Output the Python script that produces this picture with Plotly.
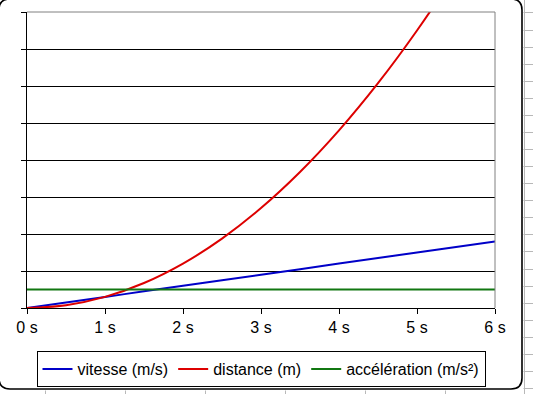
import plotly.graph_objects as go

# ---- data ----
temps = [0, 0.5, 1, 1.5, 2, 2.5, 3, 3.5, 4, 4.5, 5, 5.5, 6]
vitesse = [0, 1.5, 3, 4.5, 6, 7.5, 9, 10.5, 12, 13.5, 15, 16.5, 18]
distance = [0, 0.75, 3, 6.75, 12, 18.75, 27, 36.75, 48, 60.75, 75, 90.75, 108]
acceleration = [5, 5, 5, 5, 5, 5, 5, 5, 5, 5, 5, 5, 5]
x_ticks = [0, 1, 2, 3, 4, 5, 6]
x_labels = ["0 s", "1 s", "2 s", "3 s", "4 s", "5 s", "6 s"]
names = ["vitesse (m/s)", "distance (m)", "accélération (m/s²)"]
colors = ["#0000C8", "#DD0000", "#117711"]

# the page body margin is removed (post_script), so figure origin = screen (0, 0)
W, H = 533, 394
ML, MR, MT, MB = 27, 533 - 495, 12, 394 - 308
PW, PH = W - ML - MR, H - MT - MB


def px(x):
    return (x - ML) / PW


def py(y):
    return (H - MB - y) / PH


fig = go.Figure()
for name, ys, c in zip(names, [vitesse, distance, acceleration], colors):
    fig.add_trace(go.Scatter(x=temps, y=ys, mode="lines", name=name,
                             line=dict(color=c, width=2, shape="spline"),
                             cliponaxis=True, hoverinfo="skip"))

GRID = "#B8B8B8"
shapes = []
# rounded chart frame
L, T, R, B, r = -1, -1, 522, 389, 11
pts = [
    ("M", (L + r, T)), ("L", (R - r, T)), ("Q", (R, T), (R, T + r)),
    ("L", (R, B - r)), ("Q", (R, B), (R - r, B)),
    ("L", (L + r, B)), ("Q", (L, B), (L, B - r)),
    ("L", (L, T + r)), ("Q", (L, T), (L + r, T)),
]
path = ""
for p in pts:
    cmd = p[0]
    coords = " ".join(f"{px(a):.5f},{py(b):.5f}" for a, b in p[1:])
    path += f"{cmd}{coords} "
path += "Z"
shapes.append(dict(type="path", xref="paper", yref="paper", layer="below",
                   path=path, fillcolor="white",
                   line=dict(color="black", width=1.6)))
# spreadsheet grid visible around the chart frame
for k in range(6):
    xv = 45.5 + 80 * k
    shapes.append(dict(type="line", xref="paper", yref="paper", layer="above",
                       x0=px(xv), x1=px(xv), y0=py(390.5), y1=py(400),
                       line=dict(color=GRID, width=1)))
shapes.append(dict(type="line", xref="paper", yref="paper", layer="above",
                   x0=px(524.5), x1=px(524.5), y0=py(0), y1=py(400),
                   line=dict(color=GRID, width=1)))
for k in range(23):
    yv = round(12.5 + 17.07 * k) + 0.5
    shapes.append(dict(type="line", xref="paper", yref="paper", layer="above",
                       x0=px(523.5), x1=px(540), y0=py(yv), y1=py(yv),
                       line=dict(color=GRID, width=1)))
# gray top/right border of plot area
shapes.append(dict(type="line", xref="paper", yref="paper", layer="above",
                   x0=0, x1=1, y0=1, y1=1, line=dict(color="#808080", width=1)))
shapes.append(dict(type="line", xref="paper", yref="paper", layer="above",
                   x0=1, x1=1, y0=0, y1=1, line=dict(color="#808080", width=1)))

font = "Arial, Liberation Sans, sans-serif"
fig.update_layout(
    width=W, height=H,
    margin=dict(l=ML, r=MR, t=MT, b=MB, pad=0, autoexpand=False),
    paper_bgcolor="white", plot_bgcolor="rgba(0,0,0,0)",
    font=dict(family=font, size=16, color="black"),
    shapes=shapes,
    hovermode=False,
    showlegend=True,
    legend=dict(orientation="h", x=0.5, xanchor="center", y=py(369), yanchor="middle",
                bordercolor="black", borderwidth=1, bgcolor="white",
                font=dict(family=font, size=16, color="black"),
                itemwidth=30, tracegroupgap=0),
    xaxis=dict(range=[0, 6], tickvals=x_ticks, ticktext=x_labels, automargin=False,
               showgrid=False, zeroline=False, showline=True, linecolor="black",
               linewidth=1, ticks="outside", ticklen=5, tickcolor="black",
               tickfont=dict(family=font, size=16, color="black")),
    yaxis=dict(range=[0, 80], dtick=10, showgrid=True, gridcolor="black",
               gridwidth=1, zeroline=False, showline=True, linecolor="black",
               linewidth=1, ticks="outside", ticklen=5, tickcolor="black",
               automargin=False, tickfont=dict(color="white", size=10)),
)

fig.write_html(
    "out.html",
    config={"displayModeBar": False, "staticPlot": True},
    post_script="document.body.style.margin='0';document.body.style.overflow='hidden';",
)
